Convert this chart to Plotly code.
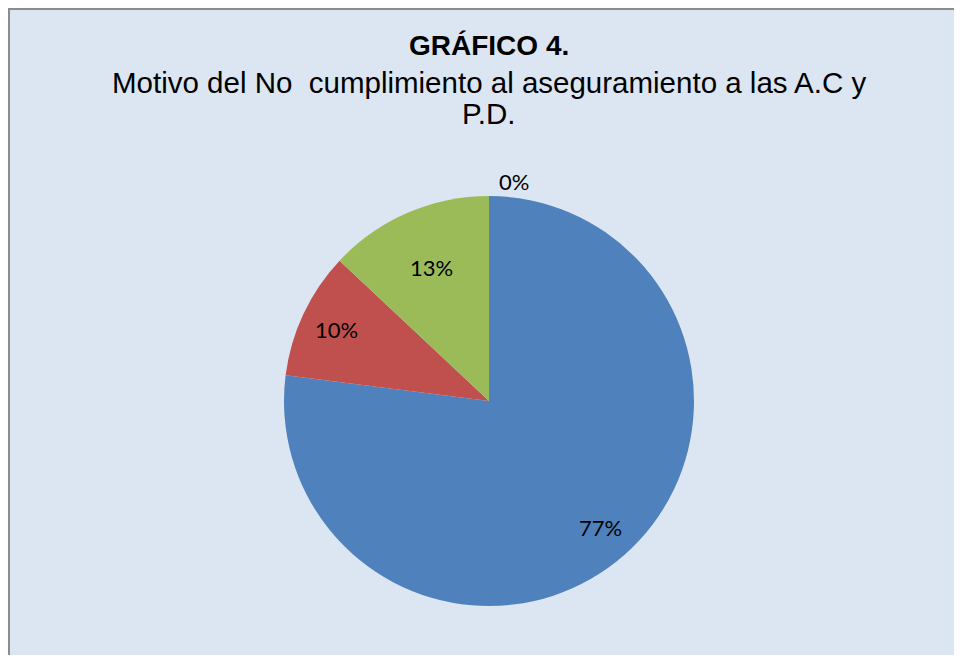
import math
import plotly.graph_objects as go

CATEGORIES = ['Motivo A', 'Motivo B', 'Motivo C', 'Motivo D']
VALUES = [77, 10, 13, 0]
SLICE_COLORS = ['#4f81bd', '#c0504d', '#9bbb59', '#8064a2']
TITLE = 'GRÁFICO 4.'
SUBTITLE_LINES = ['Motivo del No  cumplimiento al aseguramiento a las A.C y', 'P.D.']

BG = '#dce6f2'
BORDER = '#8c8c8c'
# page has an 8px body margin, so the figure is offset by 8px
W, H = 954, 647

# pie placement (figure pixels)
CX, CY, R = 481, 393, 205
# label distance from centre as a fraction of the radius (style only)
LABEL_RADIUS = [0.82, 0.82, 0.71, 1.07]

fig = go.Figure(go.Pie(
    labels=CATEGORIES,
    values=VALUES,
    sort=False,
    direction='clockwise',
    rotation=0,
    marker=dict(colors=SLICE_COLORS, line=dict(width=0)),
    textinfo='none',
    showlegend=False,
    hoverinfo='label+percent',
    domain=dict(x=[(CX - R) / W, (CX + R) / W], y=[1 - (CY + R) / H, 1 - (CY - R) / H]),
))

# data labels at the middle angle of each slice
total = sum(VALUES)
annotations = []
start = 0.0
for v, f in zip(VALUES, LABEL_RADIUS):
    mid = (start + v / 2) / total * 2 * math.pi
    start += v
    px = CX + f * R * math.sin(mid)
    py = CY - f * R * math.cos(mid)
    annotations.append(dict(
        text='{:.0f}%'.format(100 * v / total),
        x=px / W, y=1 - py / H, xref='paper', yref='paper',
        xanchor='left' if f > 1 else 'center', yanchor='middle', xshift=8 if f > 1 else 0,
        showarrow=False, font=dict(family='Lato', size=22, color='#000000')))

title_font = dict(family='Liberation Sans', size=29.5, color='#000000')
annotations += [
    dict(text='<b>' + TITLE + '</b>', x=CX / W, y=1 - 38 / H, xref='paper', yref='paper',
         xanchor='center', yanchor='middle', showarrow=False,
         font=dict(family='Liberation Sans', size=28, color='#000000')),
    dict(text=SUBTITLE_LINES[0], x=CX / W, y=1 - 74 / H, xref='paper', yref='paper',
         xanchor='center', yanchor='middle', showarrow=False, font=title_font),
    dict(text=SUBTITLE_LINES[1], x=CX / W, y=1 - 106 / H, xref='paper', yref='paper',
         xanchor='center', yanchor='middle', showarrow=False, font=title_font),
]

fig.update_layout(
    width=W,
    height=H,
    paper_bgcolor=BG,
    margin=dict(l=0, r=0, t=0, b=0),
    shapes=[
        dict(type='line', xref='paper', yref='paper', x0=1 / W, x1=1 / W, y0=0, y1=1,
             line=dict(color=BORDER, width=2)),
        dict(type='line', xref='paper', yref='paper', x0=0, x1=1, y0=1 - 1 / H, y1=1 - 1 / H,
             line=dict(color=BORDER, width=2)),
    ],
    annotations=annotations,
)

fig.write_html("out.html")
